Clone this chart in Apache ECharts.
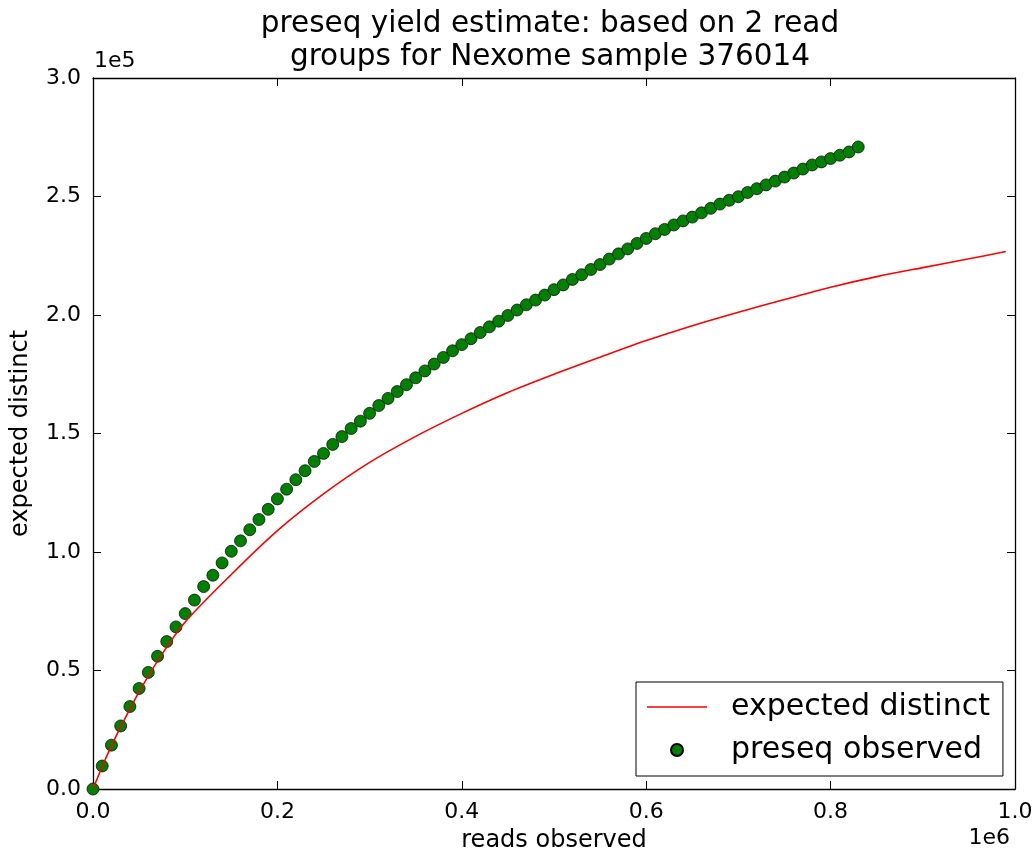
<!DOCTYPE html>
<html>
<head>
<meta charset="utf-8">
<script src="https://cdn.jsdelivr.net/npm/echarts@6/dist/echarts.min.js"></script>
<style>
  html, body { margin: 0; padding: 0; background: #fff; }
  #chart { width: 1032px; height: 850px; }
</style>
</head>
<body>
<div id="chart"></div>
<script>
// preseq observed points (reads, distinct) - one every 10k reads
const observedReads = [];
for (let i = 0; i <= 83; i++) observedReads.push(i * 10000);
const observedDistinct = [
  0, 9700, 18500, 26600, 34800, 42400, 49200, 56000, 62200, 68400,
  74000, 79700, 85400, 90200, 95400, 100300, 104700, 109400, 113700, 118000,
  122400, 126500, 130500, 134300, 138200, 141600, 145400, 148700, 152100, 155200,
  158500, 161800, 164800, 167700, 170600, 173500, 176400, 179300, 182100, 184900,
  187500, 190000, 192600, 195000, 197400, 199800, 202100, 204300, 206300, 208400,
  210700, 212700, 215000, 217000, 219200, 221300, 223600, 225800, 227900, 230200,
  232300, 234300, 236100, 238000, 239700, 241300, 243100, 245000, 246800, 248400,
  249900, 251700, 253300, 254900, 256500, 258200, 259900, 261600, 263300, 264600,
  266000, 267400, 268800, 270900
];

// expected distinct curve
const expectedReads = [
  0, 10000, 20000, 30000, 50000, 75000, 100000, 150000, 200000, 250000,
  300000, 350000, 400000, 450000, 500000, 550000, 600000, 650000, 700000, 750000,
  800000, 850000, 900000, 950000, 990000
];
const expectedDistinct = [
  0, 9500, 18200, 26200, 41000, 57000, 70500, 90500, 109000, 124500,
  137800, 148800, 158500, 167300, 175000, 182200, 189200, 195500, 201200, 206500,
  211700, 216200, 220000, 223700, 226800
];

const chart = echarts.init(document.getElementById('chart'));

const font = 'DejaVu Sans';
const tickStyle = { color: '#000', fontSize: 22, fontFamily: font };
const axisLine = { show: true, onZero: false, lineStyle: { color: '#000', width: 1.3 } };
const axisTick = { show: true, inside: true, length: 8, lineStyle: { color: '#000', width: 1 } };

chart.setOption({
  animation: false,
  backgroundColor: '#fff',
  textStyle: { fontFamily: font },
  grid: { left: 93, right: 17, top: 78, bottom: 61, containLabel: false, outerBoundsMode: 'none' },
  graphic: [
    {
      type: 'text', x: 550, y: 8,
      style: {
        text: 'preseq yield estimate: based on 2 read\ngroups for Nexome sample 376014',
        font: '29.5px "DejaVu Sans"', fill: '#000', textAlign: 'center', textVerticalAlign: 'top', lineHeight: 33
      }
    },
    {
      type: 'text', x: 94, y: 61,
      style: { text: '1e5', font: '22px "DejaVu Sans"', fill: '#000', textAlign: 'left', textVerticalAlign: 'middle' }
    },
    {
      type: 'text', x: 1010, y: 838,
      style: { text: '1e6', font: '22px "DejaVu Sans"', fill: '#000', textAlign: 'right', textVerticalAlign: 'middle' }
    }
  ],
  legend: {
    orient: 'vertical',
    left: 636,
    top: 682,
    padding: [10, 13, 11, 11],
    itemWidth: 60,
    itemHeight: 12,
    itemGap: 13,
    borderColor: '#000',
    borderWidth: 1,
    formatter: name => '  ' + name,
    textStyle: { color: '#000', fontSize: 30, lineHeight: 30, fontFamily: font },
    data: [
      { name: 'expected distinct', icon: 'path://M0,0L60,0L60,1.6L0,1.6Z' },
      { name: 'preseq observed', icon: 'circle' }
    ]
  },
  xAxis: [
    {
      type: 'value', position: 'bottom', min: 0, max: 1000000, interval: 200000,
      axisLine: axisLine, axisTick: axisTick, splitLine: { show: false },
      axisLabel: { ...tickStyle, margin: 12, formatter: v => (v / 1e6).toFixed(1) },
      name: 'reads observed', nameLocation: 'middle', nameGap: 40,
      nameTextStyle: { color: '#000', fontSize: 24, fontFamily: font }
    },
    {
      type: 'value', position: 'top', min: 0, max: 1000000, interval: 200000,
      axisLine: axisLine, axisTick: axisTick, splitLine: { show: false },
      axisLabel: { show: false }
    }
  ],
  yAxis: [
    {
      type: 'value', position: 'left', min: 0, max: 300000, interval: 50000,
      axisLine: axisLine, axisTick: axisTick, splitLine: { show: false },
      axisLabel: { ...tickStyle, margin: 12, formatter: v => (v / 1e5).toFixed(1) },
      name: 'expected distinct', nameLocation: 'middle', nameGap: 60,
      nameTextStyle: { color: '#000', fontSize: 24, fontFamily: font }
    },
    {
      type: 'value', position: 'right', min: 0, max: 300000, interval: 50000,
      axisLine: axisLine, axisTick: axisTick, splitLine: { show: false },
      axisLabel: { show: false }
    }
  ],
  series: [
    {
      name: 'expected distinct',
      type: 'line',
      smooth: 0.3,
      showSymbol: false,
      symbol: 'none',
      lineStyle: { color: '#ff0000', width: 1.6 },
      itemStyle: { color: '#ff0000' },
      data: expectedReads.map((x, i) => [x, expectedDistinct[i]])
    },
    {
      name: 'preseq observed',
      type: 'scatter',
      symbolSize: 12,
      itemStyle: { color: '#008000', borderColor: '#000', borderWidth: 0.7, opacity: 1 },
      data: observedReads.map((x, i) => [x, observedDistinct[i]])
    }
  ]
});
</script>
</body>
</html>
